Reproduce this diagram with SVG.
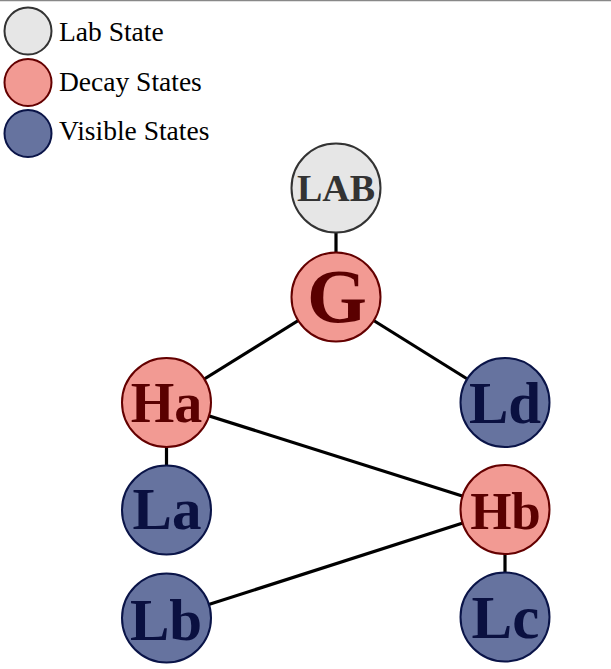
<svg xmlns="http://www.w3.org/2000/svg" width="611" height="669" viewBox="0 0 611 669">
<style>
.lab{fill:#e6e6e6;stroke:#333333;stroke-width:2}
.decay{fill:#f29a93;stroke:#640000;stroke-width:2}
.vis{fill:#66739f;stroke:#0a1448;stroke-width:2}
.tl{fill:#333333}
.td{fill:#5a0000}
.tv{fill:#0a1040}
.nt{font-weight:bold;text-anchor:middle}
.leg{font-size:27.5px;fill:#000}
.edge{stroke:#000;stroke-width:3.2;fill:none}
</style>
<rect x="0" y="0" width="611" height="669" fill="#ffffff"/>
<line x1="0" y1="0.5" x2="611" y2="0.5" stroke="#888888" stroke-width="1.5"/>
<g id="legend" font-family="Liberation Serif, Times New Roman, serif">
  <circle class="lab" cx="28" cy="31" r="23.5"/>
  <text class="leg" x="59" y="41">Lab State</text>
  <circle class="decay" cx="28" cy="82.5" r="23.5"/>
  <text class="leg" x="59" y="91">Decay States</text>
  <circle class="vis" cx="28" cy="133.5" r="23.5"/>
  <text class="leg" x="59" y="140">Visible States</text>
</g>
<g id="edges">
  <line class="edge" x1="336" y1="188" x2="336" y2="297"/>
  <line class="edge" x1="336" y1="297" x2="166.5" y2="402.5"/>
  <line class="edge" x1="336" y1="297" x2="505" y2="402.5"/>
  <line class="edge" x1="166.5" y1="402.5" x2="166.5" y2="510"/>
  <line class="edge" x1="166.5" y1="402.5" x2="505" y2="509.5"/>
  <line class="edge" x1="505" y1="509.5" x2="166.5" y2="618"/>
  <line class="edge" x1="505" y1="509.5" x2="505" y2="617"/>
</g>
<g font-family="Liberation Serif, Times New Roman, serif">
<g id="LAB">
  <circle class="lab" cx="336" cy="188" r="44.5"/>
  <text class="nt tl" x="336" y="201" font-size="38">LAB</text>
</g>
<g id="G">
  <circle class="decay" cx="336" cy="297" r="44.5"/>
  <text class="nt td" x="337" y="322" font-size="77">G</text>
</g>
<g id="Ha">
  <circle class="decay" cx="166.5" cy="402.5" r="44.5"/>
  <text class="nt td" x="166.5" y="421.5" font-size="56">Ha</text>
</g>
<g id="Ld">
  <circle class="vis" cx="505" cy="402.5" r="44.5"/>
  <text class="nt tv" x="505" y="423" font-size="59">Ld</text>
</g>
<g id="La">
  <circle class="vis" cx="166.5" cy="510" r="44.5"/>
  <text class="nt tv" x="167" y="528.5" font-size="59">La</text>
</g>
<g id="Hb">
  <circle class="decay" cx="505" cy="509.5" r="44.5"/>
  <text class="nt td" x="505.5" y="528.5" font-size="53">Hb</text>
</g>
<g id="Lb">
  <circle class="vis" cx="166.5" cy="618" r="44.5"/>
  <text class="nt tv" x="166" y="640" font-size="59">Lb</text>
</g>
<g id="Lc">
  <circle class="vis" cx="505" cy="617" r="44.5"/>
  <text class="nt tv" x="505.5" y="637.5" font-size="61">Lc</text>
</g>
</g>
</svg>
